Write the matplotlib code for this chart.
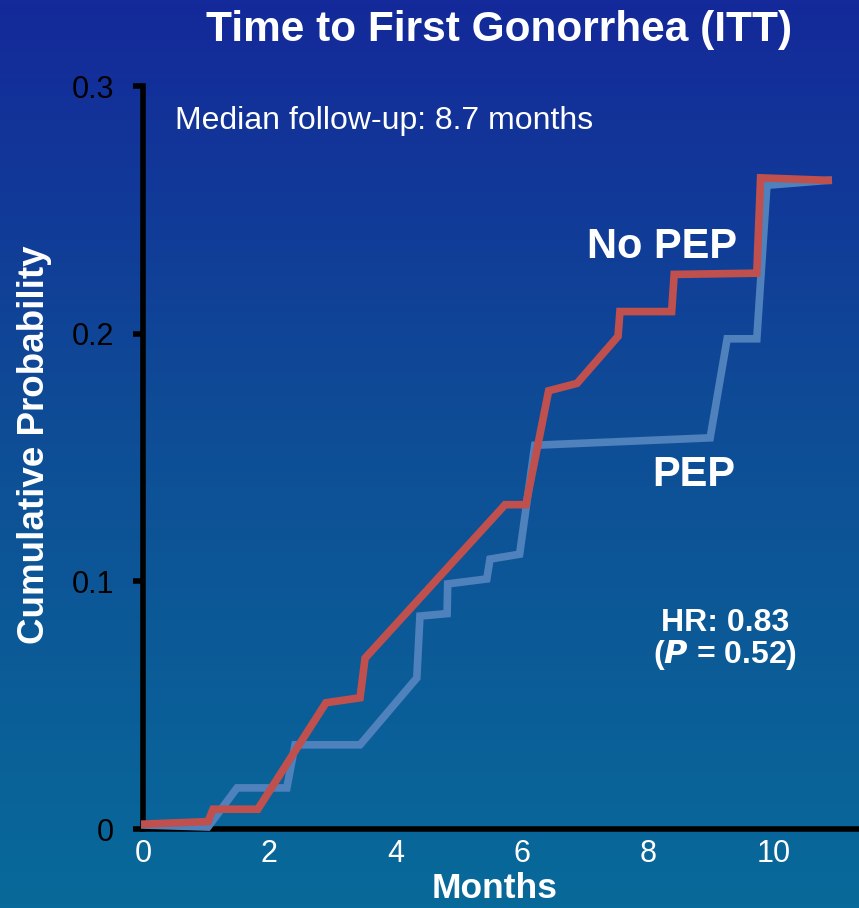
import numpy as np
import matplotlib as mpl
mpl.use('Agg')
import matplotlib.pyplot as plt
from matplotlib.colors import LinearSegmentedColormap

plt.rcParams['font.family'] = ['Liberation Sans', 'DejaVu Sans']

# Kaplan-Meier style curves (months, cumulative probability)
nopep_months = [0.03, 1.03, 1.11, 1.82, 2.90, 3.44, 3.52, 5.74, 6.07, 6.43,
                6.88, 7.53, 7.56, 8.38, 8.42, 9.73, 9.79, 10.86]
nopep_prob = [0.002, 0.003, 0.008, 0.008, 0.051, 0.053, 0.069, 0.131, 0.131, 0.177,
              0.180, 0.199, 0.209, 0.209, 0.224, 0.2245, 0.263, 0.262]

pep_months = [0.03, 1.03, 1.49, 2.28, 2.41, 3.44, 4.34, 4.39, 4.82, 4.83,
              5.45, 5.50, 5.97, 6.21, 8.99, 9.26, 9.73, 9.89, 10.86]
pep_prob = [0.0016, 0.0008, 0.0166, 0.0166, 0.034, 0.034, 0.061, 0.086, 0.087, 0.099,
            0.101, 0.109, 0.111, 0.155, 0.158, 0.198, 0.198, 0.260, 0.262]

x_ticks = [0, 2, 4, 6, 8, 10]
y_ticks = [0, 0.1, 0.2, 0.3]
y_ticklabels = ['0', '0.1', '0.2', '0.3']

RED = '#c0504d'
BLUE = '#4f81bd'

fig = plt.figure(figsize=(8.59, 9.08), dpi=100)

# background gradient, dark blue on top to teal blue at the bottom
bg = fig.add_axes([0, 0, 1, 1], zorder=-10)
cmap = LinearSegmentedColormap.from_list('bg', ['#14299a', '#0e4f96', '#086a9a'])
bg.imshow(np.linspace(0, 1, 256).reshape(-1, 1), aspect='auto', cmap=cmap,
          extent=[0, 1, 0, 1])
bg.set_axis_off()

ax = fig.add_axes([0.1665, 0.087, 0.8335, 0.818])
ax.patch.set_alpha(0)
ax.plot(pep_months, pep_prob, color=BLUE, lw=5.5, solid_joinstyle='miter', clip_on=False)
ax.plot(nopep_months, nopep_prob, color=RED, lw=5.5, solid_joinstyle='miter', clip_on=False)

ax.set_xlim(0, 11.35)
ax.set_ylim(0, 0.3)
for side in ['top', 'right']:
    ax.spines[side].set_visible(False)
for side in ['left', 'bottom']:
    ax.spines[side].set_linewidth(4)
    ax.spines[side].set_color('black')
    ax.spines[side].set_zorder(1)

ax.set_xticks(x_ticks)
ax.set_yticks(y_ticks)
ax.set_yticklabels(y_ticklabels)
ax.tick_params(axis='x', length=0, pad=7, labelsize=22, labelcolor='white')
ax.tick_params(axis='y', length=7, width=4, pad=14, labelsize=22,
               labelcolor='black', color='black', direction='out')

fig.text(495 / 859, 1 - 888 / 908, 'Months', ha='center', va='center',
         fontsize=25.5, fontweight='bold', color='white')
fig.text(35 / 859, 1 - 445 / 908, 'Cumulative Probability', ha='center', va='center',
         rotation=90, fontsize=26.5, fontweight='bold', color='white')

fig.text(499 / 859, 1 - 30 / 908, 'Time to First Gonorrhea (ITT)', ha='center',
         va='center', fontsize=30.5, fontweight='bold', color='white')

ax.text(0.5, 0.286, 'Median follow-up: 8.7 months', ha='left', va='center',
        fontsize=23, color='white')
ax.text(8.22, 0.235, 'No PEP', ha='center', va='center', fontsize=30,
        fontweight='bold', color='white')
ax.text(8.73, 0.143, 'PEP', ha='center', va='center', fontsize=30,
        fontweight='bold', color='white')
ax.text(9.22, 0.0765, 'HR: 0.83\n($\\mathbfit{P}$ = 0.52)', ha='center', va='center',
        fontsize=23, fontweight='bold', color='white', linespacing=1.0)

fig.savefig('out.png', dpi=100)
